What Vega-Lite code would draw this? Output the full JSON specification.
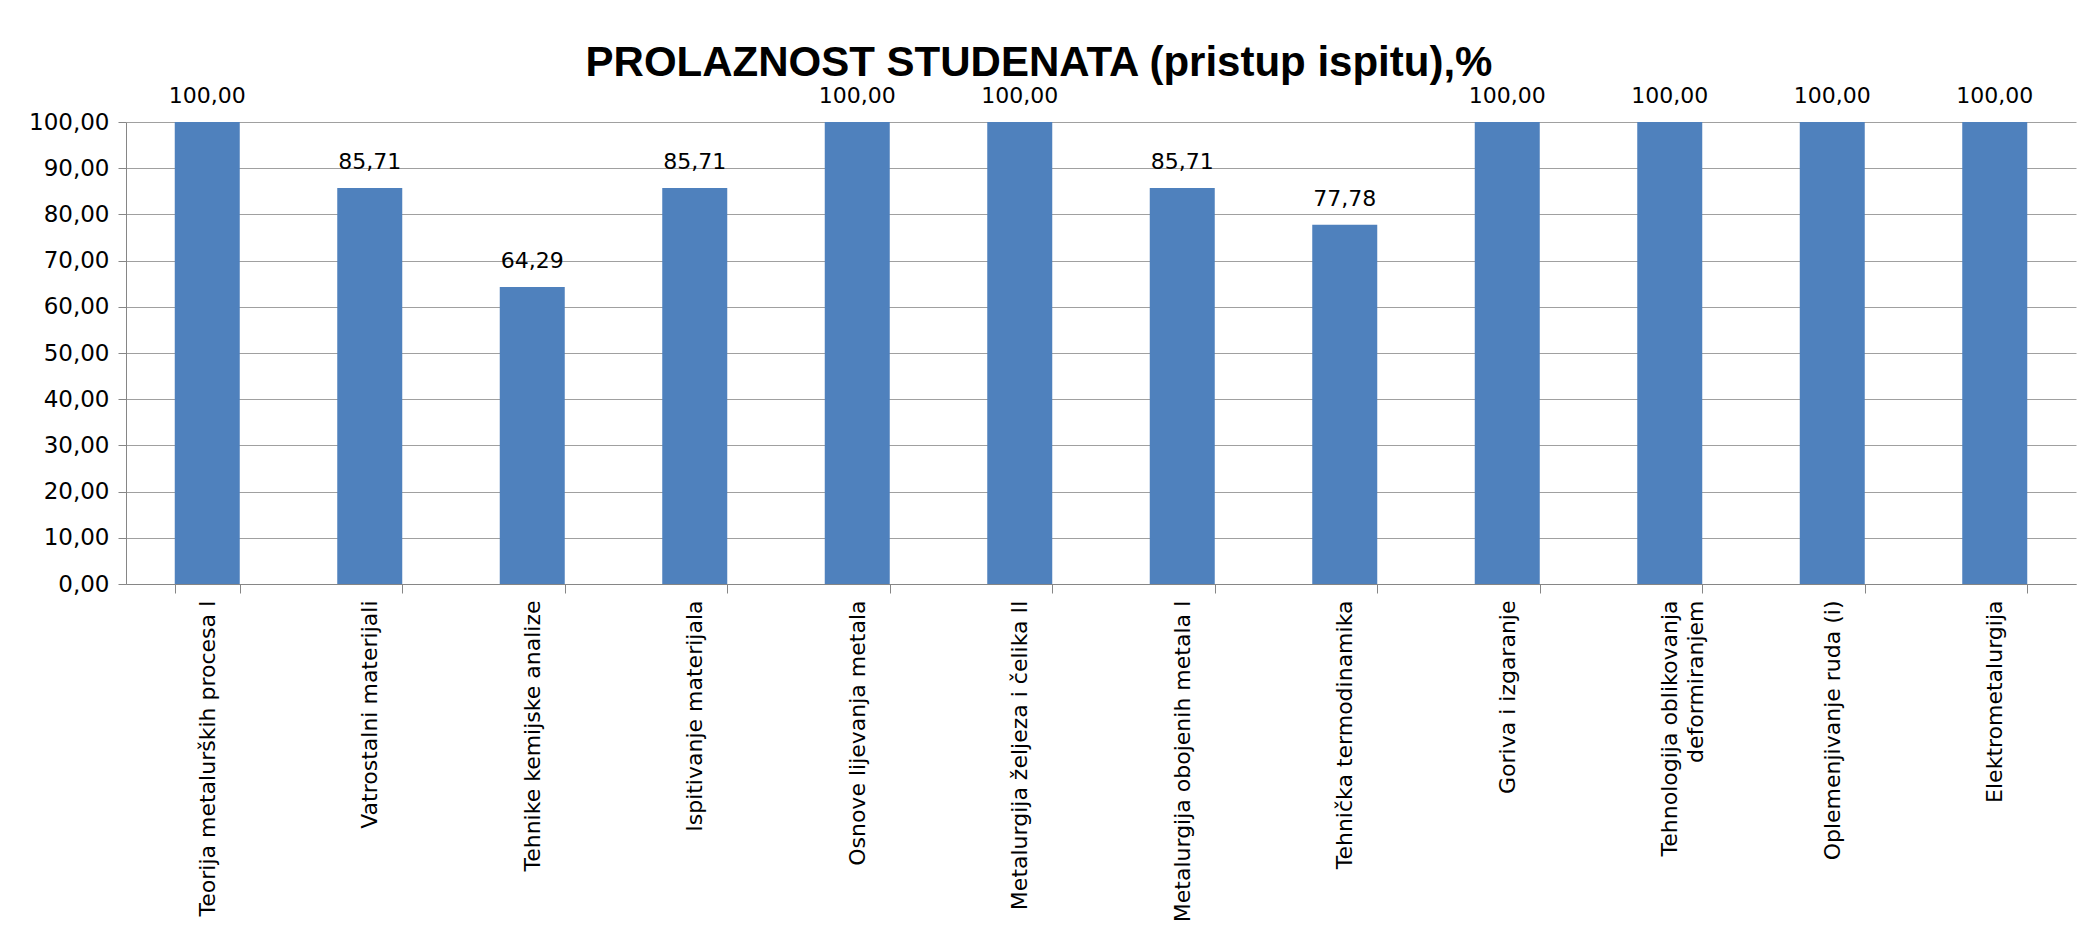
{
  "$schema": "https://vega.github.io/schema/vega-lite/v6.json",
  "width": 1950,
  "height": 462,
  "autosize": {"type": "none"},
  "padding": {"left": 126, "top": 122, "right": 11, "bottom": 351},
  "background": "white",
  "config": {
    "locale": {"number": {"decimal": ",", "thousands": ".", "grouping": [3], "currency": ["", ""]}},
    "view": {"stroke": null},
    "font": "DejaVu Sans"
  },
  "title": {
    "text": "PROLAZNOST STUDENATA (pristup ispitu),%",
    "font": "Liberation Sans",
    "fontSize": 42,
    "fontWeight": "bold",
    "color": "black",
    "anchor": "middle",
    "offset": 0,
    "dx": -62
  },
  "data": {
    "values": [
      {"predmet": "Teorija metalurških procesa I", "prolaznost": 100},
      {"predmet": "Vatrostalni materijali", "prolaznost": 85.71},
      {"predmet": "Tehnike kemijske analize", "prolaznost": 64.29},
      {"predmet": "Ispitivanje materijala", "prolaznost": 85.71},
      {"predmet": "Osnove lijevanja metala", "prolaznost": 100},
      {"predmet": "Metalurgija željeza i čelika II", "prolaznost": 100},
      {"predmet": "Metalurgija obojenih metala I", "prolaznost": 85.71},
      {"predmet": "Tehnička termodinamika", "prolaznost": 77.78},
      {"predmet": "Goriva i izgaranje", "prolaznost": 100},
      {"predmet": "Tehnologija oblikovanja deformiranjem", "prolaznost": 100},
      {"predmet": "Oplemenjivanje ruda (i)", "prolaznost": 100},
      {"predmet": "Elektrometalurgija", "prolaznost": 100}
    ]
  },
  "encoding": {
    "x": {
      "field": "predmet",
      "type": "nominal",
      "sort": null,
      "scale": {"paddingInner": 0.6, "paddingOuter": 0.3},
      "axis": {
        "title": null,
        "labelAngle": -90,
        "labelAlign": "right",
        "labelBaseline": "middle",
        "labelFont": "DejaVu Sans",
        "labelFontSize": 22,
        "labelColor": "black",
        "labelLimit": 500,
        "labelLineHeight": 26,
        "labelPadding": 7,
        "labelExpr": "datum.label == 'Tehnologija oblikovanja deformiranjem' ? ['Tehnologija oblikovanja', 'deformiranjem'] : datum.label",
        "tickBand": "extent",
        "tickSize": 9,
        "tickColor": "#868686",
        "domainColor": "#868686",
        "grid": false
      }
    },
    "y": {
      "field": "prolaznost",
      "type": "quantitative",
      "scale": {"domain": [0, 100], "nice": false},
      "axis": {
        "title": null,
        "values": [0, 10, 20, 30, 40, 50, 60, 70, 80, 90, 100],
        "format": ".2f",
        "labelFont": "DejaVu Sans",
        "labelFontSize": 23,
        "labelColor": "black",
        "labelPadding": 9,
        "tickSize": 8,
        "tickColor": "#868686",
        "domainColor": "#868686",
        "gridColor": "#a0a0a0",
        "grid": true
      }
    }
  },
  "layer": [
    {"mark": {"type": "bar", "color": "#4F81BD"}},
    {
      "mark": {"type": "text", "baseline": "alphabetic", "dy": -19, "fontSize": 22, "font": "DejaVu Sans", "color": "black"},
      "encoding": {"text": {"field": "prolaznost", "type": "quantitative", "format": ".2f"}}
    }
  ]
}
